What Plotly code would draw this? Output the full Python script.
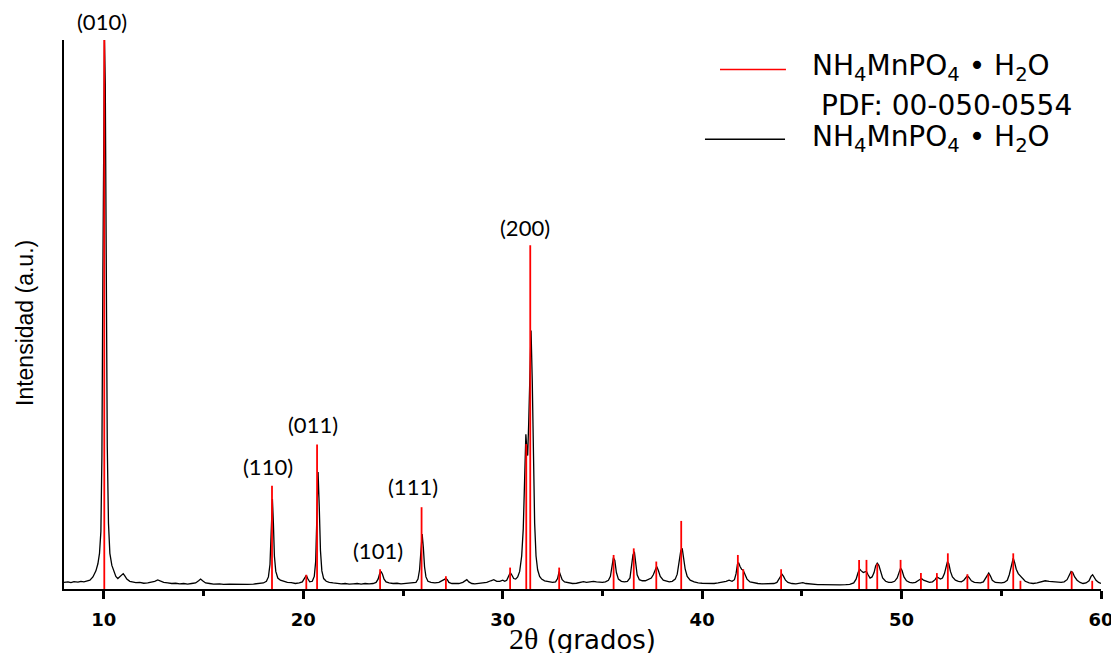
import plotly.graph_objects as go

# ---- measured pattern (2theta in degrees, intensity in a.u., 0..100) ----
pattern_x = [
    8.0, 8.2, 8.35, 8.5, 8.7, 8.85, 9.0, 9.15, 9.3, 9.45, 9.6, 9.7, 9.78, 9.85, 9.9, 9.95,
    10.0, 10.03, 10.07, 10.12, 10.17, 10.23, 10.3, 10.4, 10.5, 10.6, 10.7, 10.8, 10.9, 10.97,
    11.05, 11.15, 11.3, 11.45, 11.6, 11.8, 12.0, 12.2, 12.4, 12.55, 12.7, 12.85, 13.0, 13.2,
    13.4, 13.6, 13.8, 14.0, 14.2, 14.4, 14.6, 14.75, 14.85, 14.95, 15.1, 15.3, 15.5, 15.8,
    16.0, 16.3, 16.6, 16.9, 17.2, 17.5, 17.8, 18.0, 18.15, 18.25, 18.33, 18.39, 18.45, 18.5,
    18.55, 18.62, 18.72, 18.85, 19.0, 19.2, 19.4, 19.6, 19.8, 19.95, 20.05, 20.15, 20.22,
    20.32, 20.45, 20.55, 20.62, 20.68, 20.74, 20.8, 20.86, 20.93, 21.02, 21.15, 21.3, 21.5,
    21.7, 21.9, 22.1, 22.3, 22.5, 22.7, 22.9, 23.1, 23.3, 23.5, 23.65, 23.75, 23.83, 23.9,
    23.97, 24.05, 24.15, 24.3, 24.5, 24.7, 24.9, 25.1, 25.3, 25.5, 25.65, 25.75, 25.83, 25.9,
    25.96, 26.02, 26.08, 26.15, 26.25, 26.4, 26.6, 26.8, 26.95, 27.05, 27.15, 27.22, 27.3,
    27.45, 27.6, 27.8, 28.0, 28.1, 28.2, 28.3, 28.45, 28.6, 28.8, 29.0, 29.2, 29.4, 29.55,
    29.7, 29.85, 30.0, 30.1, 30.2, 30.3, 30.38, 30.45, 30.55, 30.65, 30.75, 30.85, 30.95,
    31.03, 31.1, 31.16, 31.2, 31.25, 31.3, 31.36, 31.42, 31.48, 31.54, 31.6, 31.67, 31.75,
    31.85, 31.95, 32.1, 32.3, 32.5, 32.65, 32.75, 32.83, 32.9, 32.98, 33.1, 33.3, 33.5, 33.7,
    33.9, 34.05, 34.2, 34.4, 34.55, 34.7, 34.85, 35.0, 35.15, 35.3, 35.4, 35.48, 35.55,
    35.62, 35.7, 35.8, 35.95, 36.1, 36.25, 36.38, 36.46, 36.53, 36.6, 36.66, 36.74, 36.85,
    37.0, 37.15, 37.3, 37.45, 37.55, 37.63, 37.72, 37.8, 37.9, 38.05, 38.2, 38.35, 38.5,
    38.65, 38.75, 38.85, 38.93, 39.0, 39.07, 39.15, 39.25, 39.4, 39.6, 39.8, 40.0, 40.2,
    40.4, 40.6, 40.8, 41.0, 41.2, 41.35, 41.5, 41.62, 41.7, 41.77, 41.83, 41.9, 41.98, 42.06,
    42.15, 42.25, 42.4, 42.6, 42.8, 43.0, 43.2, 43.4, 43.6, 43.75, 43.85, 43.93, 44.0, 44.08,
    44.18, 44.3, 44.5, 44.7, 44.9, 45.05, 45.2, 45.4, 45.6, 45.8, 46.0, 46.3, 46.6, 46.9,
    47.2, 47.4, 47.6, 47.72, 47.82, 47.9, 47.98, 48.08, 48.16, 48.24, 48.32, 48.42, 48.52,
    48.62, 48.7, 48.78, 48.86, 48.95, 49.05, 49.2, 49.35, 49.5, 49.65, 49.78, 49.88, 49.95,
    50.02, 50.12, 50.25, 50.4, 50.55, 50.7, 50.82, 50.92, 51.0, 51.1, 51.25, 51.4, 51.55,
    51.68, 51.77, 51.85, 51.95, 52.05, 52.15, 52.23, 52.3, 52.37, 52.45, 52.55, 52.7, 52.85,
    53.0, 53.12, 53.22, 53.3, 53.38, 53.5, 53.65, 53.8, 53.95, 54.1, 54.22, 54.3, 54.37,
    54.45, 54.55, 54.7, 54.85, 55.0, 55.15, 55.3, 55.4, 55.48, 55.55, 55.6, 55.67, 55.75,
    55.85, 55.95, 56.05, 56.2, 56.4, 56.6, 56.8, 57.0, 57.2, 57.4, 57.6, 57.8, 58.0, 58.15,
    58.3, 58.42, 58.5, 58.58, 58.68, 58.8, 58.95, 59.1, 59.25, 59.4, 59.5, 59.58, 59.65,
    59.75, 59.88, 60.0,
]
pattern_y = [
    1.2, 1.3, 1.15, 1.35, 1.25, 1.4, 1.3, 1.45, 1.6, 2.2, 3.3, 4.6, 6.5, 10.5, 24, 58,
    92, 100, 92, 58, 26, 12, 6.5, 4.3, 3.1, 2.3, 1.9, 2.2, 2.6, 2.8,
    2.4, 1.8, 1.4, 1.3, 1.15, 1.2, 1.05, 1.1, 1.2, 1.4, 1.65, 1.45, 1.2, 1.1,
    1.0, 1.05, 0.95, 1.0, 0.9, 1.0, 1.1, 1.5, 1.8, 1.5, 1.1, 1.0, 0.9, 0.95,
    0.85, 0.9, 0.85, 0.9, 0.85, 0.9, 1.0, 1.1, 1.4, 2.2, 4.5, 9.5, 16.4, 12,
    6, 3.2, 2.0, 1.6, 1.4, 1.2, 1.15, 1.0, 1.1, 1.3, 1.9, 2.5, 1.9,
    1.3, 1.4, 2.3, 5, 12, 21.3, 15, 7, 3.3, 1.9, 1.4, 1.2, 1.1,
    1.0, 0.95, 1.0, 0.9, 0.95, 1.0, 0.9, 1.0, 0.95, 1.0, 1.2, 1.8, 2.8, 3.2,
    2.7, 1.8, 1.3, 1.1, 1.0, 1.05, 0.95, 1.0, 1.0, 1.05, 1.2, 1.8, 3.5, 7,
    10, 7.5, 4, 2.2, 1.4, 1.2, 1.1, 1.2, 1.5, 1.7, 1.9, 1.7, 1.2,
    1.0, 0.95, 1.0, 1.2, 1.5, 1.7, 1.3, 1.0, 0.95, 1.0, 1.05, 1.2, 1.5, 1.7,
    1.4, 1.4, 1.6, 1.4, 1.6, 2.3, 3.0, 2.6, 1.9, 1.8, 2.2, 3.2, 6,
    11, 19, 28.2, 26, 24.3, 30, 40, 47.1, 38, 22, 12, 6, 3.5,
    2.3, 1.8, 1.5, 1.3, 1.2, 1.3, 1.9, 3.2, 2.6, 1.7, 1.3, 1.1, 1.0, 1.05,
    1.2, 1.35, 1.2, 1.3, 1.4, 1.3, 1.2, 1.2, 1.3, 1.6, 2.3, 3.8, 5.7,
    5.2, 3.0, 1.8, 1.4, 1.3, 1.4, 2.0, 3.8, 6.2, 6.8, 5.0, 2.6, 1.7,
    1.5, 1.5, 1.7, 2.0, 2.6, 3.5, 4.1, 3.4, 2.3, 1.6, 1.4, 1.3, 1.4,
    1.8, 2.7, 4.8, 7.0, 7.4, 5.8, 3.6, 2.3, 1.6, 1.3, 1.1, 1.05, 1.0,
    1.05, 1.0, 1.1, 1.2, 1.4, 1.6, 1.4, 1.7, 2.8, 4.5, 4.8, 4.1, 3.6, 3.4,
    2.6, 1.8, 1.3, 1.1, 1.0, 0.95, 1.0, 0.95, 1.0, 1.2, 1.8, 2.5, 2.7, 2.3,
    1.6, 1.2, 1.0, 0.95, 1.05, 1.15, 1.0, 0.9, 0.85, 0.8, 0.8, 0.75, 0.8, 0.75,
    0.8, 0.85, 1.1, 1.8, 3.0, 3.6, 3.3, 3.0, 3.1, 3.2, 2.6, 2.0, 2.2,
    3.0, 4.2, 4.7, 4.3, 3.0, 2.0, 1.4, 1.2, 1.2, 1.4, 2.0, 3.0, 3.8,
    3.4, 2.2, 1.5, 1.2, 1.1, 1.2, 1.5, 1.8, 1.9, 1.6, 1.4, 1.2, 1.3,
    1.7, 2.2, 2.0, 1.8, 2.0, 2.8, 4.0, 5.0, 4.6, 3.2, 2.2, 1.6, 1.4,
    1.3, 1.6, 2.1, 2.4, 2.1, 1.5, 1.2, 1.1, 1.1, 1.3, 2.0, 2.7, 2.9,
    2.4, 1.6, 1.2, 1.1, 1.1, 1.2, 1.6, 2.6, 4.0, 5.2, 5.6, 4.8, 3.6,
    2.8, 2.4, 1.9, 1.4, 1.1, 1.0, 1.1, 1.3, 1.5, 1.4, 1.3, 1.2, 1.2, 1.3,
    1.7, 2.6, 3.2, 3.0, 2.2, 1.6, 1.2, 1.0, 1.1, 1.5, 2.3, 2.6, 2.2,
    1.6, 1.2, 1.0,
]

# ---- reference card PDF 00-050-0554 (stick positions and heights) ----
pdf_pos = [10.02, 18.43, 20.15, 20.69, 23.85, 25.93, 27.15, 30.37, 31.18, 31.38, 32.83,
           35.56, 36.57, 37.70, 38.95, 41.79, 42.06, 43.96, 47.87, 48.24, 48.78, 49.95,
           50.97, 51.77, 52.32, 53.30, 54.35, 55.60, 55.96, 58.53, 59.56]
pdf_int = [100, 18.8, 2.6, 26.3, 3.6, 14.9, 2.3, 3.9, 26.4, 62.6, 3.9,
           6.2, 7.4, 5.0, 12.4, 6.2, 3.6, 3.6, 5.3, 5.3, 4.6, 5.3,
           2.9, 2.9, 6.5, 2.7, 2.7, 6.5, 1.5, 3.2, 1.5]

# ---- Miller index labels (x in degrees, y in intensity units) ----
hkl_text = ["(010)", "(110)", "(011)", "(101)", "(111)", "(200)"]
hkl_x = [9.93, 18.23, 20.49, 23.75, 25.48, 31.12]
hkl_y = [103.3, 22.4, 30.05, 7.1, 18.6, 65.8]

x_ticks = [10, 20, 30, 40, 50, 60]
y_range = [0, 100]
formula = "NH<sub>4</sub>MnPO<sub>4</sub> \u2022 H<sub>2</sub>O"
card = "PDF: 00-050-0554"

stick_x, stick_y = [], []
for p, h in zip(pdf_pos, pdf_int):
    stick_x += [p, p, None]
    stick_y += [0, h, None]

fig = go.Figure()
fig.add_trace(go.Scatter(x=pattern_x, y=pattern_y, mode="lines",
                         line=dict(color="black", width=1.3), showlegend=False,
                         hoverinfo="skip"))
fig.add_trace(go.Scatter(x=stick_x, y=stick_y, mode="lines",
                         line=dict(color="#ff0000", width=1.8), showlegend=False,
                         hoverinfo="skip"))

for t, xx, yy in zip(hkl_text, hkl_x, hkl_y):
    fig.add_annotation(x=xx, y=(yy - y_range[0]) / (y_range[1] - y_range[0]), text=t,
                       showarrow=False, xref="x", yref="paper",
                       xanchor="center", yanchor="middle",
                       font=dict(family="Lato", size=22, color="black"))

# legend drawn manually
fig.add_shape(type="line", xref="paper", yref="paper", x0=0.6326, x1=0.6962,
              y0=0.9463, y1=0.9463, line=dict(color="#ff0000", width=1.5))
fig.add_shape(type="line", xref="paper", yref="paper", x0=0.6181, x1=0.6953,
              y0=0.8191, y1=0.8191, line=dict(color="black", width=1.5))
leg_font = dict(family="DejaVu Sans", size=28, color="black")
fig.add_annotation(xref="paper", yref="paper", x=0.836, y=0.949, text=formula,
                   showarrow=False, xanchor="center", yanchor="middle", font=leg_font)
fig.add_annotation(xref="paper", yref="paper", x=0.851, y=0.8816, text=card,
                   showarrow=False, xanchor="center", yanchor="middle", font=leg_font)
fig.add_annotation(xref="paper", yref="paper", x=0.836, y=0.8197, text=formula,
                   showarrow=False, xanchor="center", yanchor="middle", font=leg_font)

# axis titles
fig.add_annotation(xref="paper", yref="paper", x=(582 - 64) / 1037, y=(589 - 638) / 549,
                   text="<span style='font-family:Liberation Serif;font-size:30px'>2\u03b8</span> (grados)",
                   showarrow=False, xanchor="center", yanchor="middle",
                   font=dict(family="DejaVu Sans", size=26, color="black"))
fig.add_annotation(xref="paper", yref="paper", x=(25 - 64) / 1037, y=(589 - 323) / 549,
                   text="Intensidad (a.u.)", textangle=-90,
                   showarrow=False, xanchor="center", yanchor="middle",
                   font=dict(family="Liberation Sans", size=23, color="black"))

# the page body adds an 8px offset; margins compensate so the plot lands where the reference has it
fig.update_layout(
    width=1119, height=653, autosize=False,
    margin=dict(l=56, r=26, t=32, b=72, autoexpand=False),
    plot_bgcolor="white", paper_bgcolor="white",
    xaxis=dict(range=[8, 60], tickvals=x_ticks, ticks="outside", ticklen=8, tickwidth=2.5,
               tickcolor="black", showline=True, linecolor="black", linewidth=2,
               showgrid=False, zeroline=False, ticklabelstandoff=5,
               tickfont=dict(family="DejaVu Sans", size=18, color="black", weight="bold"),
               minor=dict(dtick=5, tick0=0, ticks="outside", ticklen=5, tickwidth=2.5,
                          tickcolor="black", showgrid=False)),
    yaxis=dict(range=y_range, showticklabels=False, ticks="", showline=True,
               linecolor="black", linewidth=2, showgrid=False, zeroline=False),
)

fig.write_html("out.html")
